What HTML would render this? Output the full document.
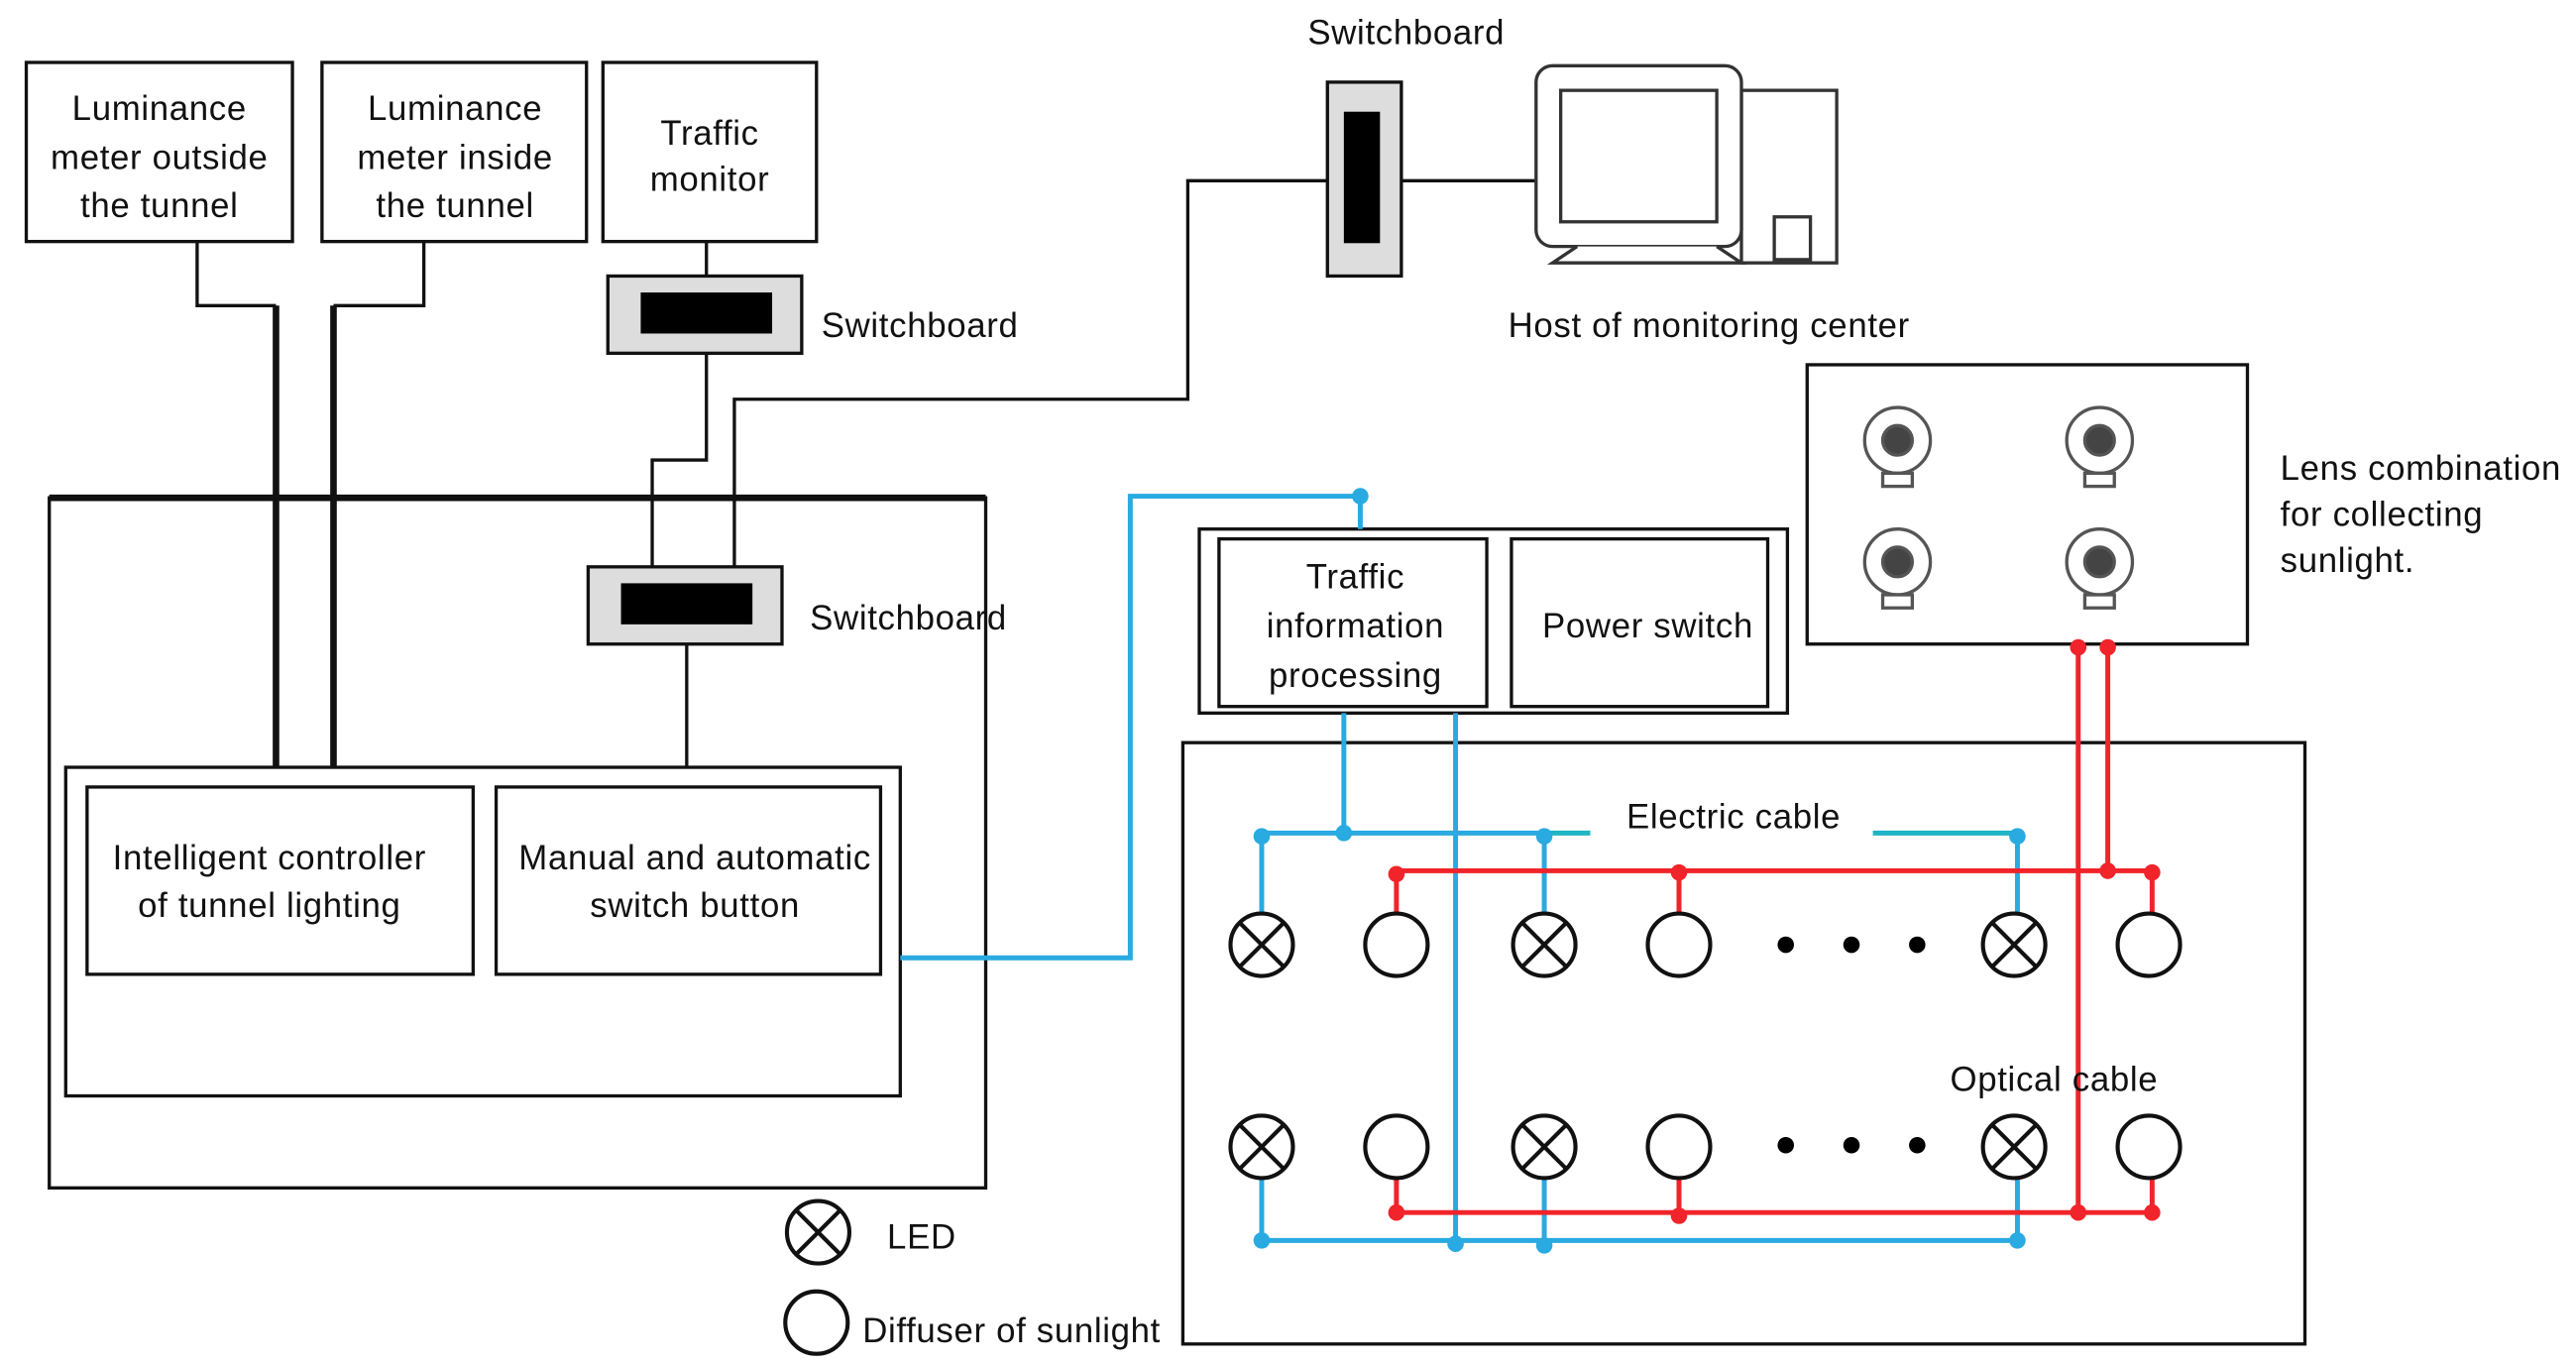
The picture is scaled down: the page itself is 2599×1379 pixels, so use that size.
<!DOCTYPE html>
<html><head><meta charset="utf-8"><style>
html,body{margin:0;padding:0;background:#fff;}
svg{display:block;}
text{font-family:"Liberation Sans","DejaVu Sans",sans-serif;font-size:21px;letter-spacing:0.4px;fill:#111;}
</style></head><body>
<svg width="2599" height="1379" viewBox="0 0 1568 832" preserveAspectRatio="none" xmlns="http://www.w3.org/2000/svg">
<rect width="1568" height="832" fill="#fff"/>
<g fill="none" stroke="#111" stroke-width="2">
<rect x="16" y="38" width="162" height="109"/>
<rect x="196" y="38" width="161" height="109"/>
<rect x="367" y="38" width="130" height="109"/>
<rect x="30" y="303" width="570" height="420"/>
<rect x="40" y="467" width="508" height="200"/>
<rect x="53" y="479" width="235" height="114"/>
<rect x="302" y="479" width="234" height="114"/>
<rect x="730" y="322" width="358" height="112"/>
<rect x="742" y="328" width="163" height="102"/>
<rect x="920" y="328" width="156" height="102"/>
<rect x="1100" y="222" width="268" height="170"/>
<rect x="720" y="452" width="683" height="366"/>
<polyline points="120,147 120,186 168,186"/>
<polyline points="258,147 258,186 203,186"/>
<line x1="430" y1="147" x2="430" y2="168"/>
<polyline points="430,215 430,280 397,280 397,345"/>
<polyline points="447,345 447,243 723,243 723,110 808,110"/>
<line x1="853" y1="110" x2="935" y2="110"/>
<line x1="418" y1="392" x2="418" y2="467"/>
</g>
<g stroke="#111" stroke-width="4">
<line x1="168" y1="186" x2="168" y2="467"/>
<line x1="203" y1="186" x2="203" y2="467"/>
<line x1="30" y1="303" x2="600" y2="303"/>
</g>
<rect x="370" y="168" width="118" height="47" fill="#ddd" stroke="#111" stroke-width="2"/>
<rect x="390" y="178" width="80" height="25" fill="#000"/>
<rect x="358" y="345" width="118" height="47" fill="#ddd" stroke="#111" stroke-width="2"/>
<rect x="378" y="355" width="80" height="25" fill="#000"/>
<rect x="808" y="50" width="45" height="118" fill="#ddd" stroke="#111" stroke-width="2"/>
<rect x="818" y="68" width="22" height="80" fill="#000"/>
<g fill="#fff" stroke="#333" stroke-width="2">
<rect x="1060" y="55" width="58" height="105"/>
<rect x="1080" y="132" width="22" height="26"/>
<rect x="935" y="40" width="125" height="110" rx="10"/>
<rect x="950" y="55" width="95" height="80"/>
<path d="M960 150 L945 160 L1060 160 L1045 150"/>
</g>
<g stroke="#555" stroke-width="2" fill="#fff">
<g transform="translate(1155,268)"><circle r="20"/><circle r="9" fill="#444"/><rect x="-9" y="20" width="18" height="8"/></g>
<g transform="translate(1278,268)"><circle r="20"/><circle r="9" fill="#444"/><rect x="-9" y="20" width="18" height="8"/></g>
<g transform="translate(1155,342)"><circle r="20"/><circle r="9" fill="#444"/><rect x="-9" y="20" width="18" height="8"/></g>
<g transform="translate(1278,342)"><circle r="20"/><circle r="9" fill="#444"/><rect x="-9" y="20" width="18" height="8"/></g>
</g>
<g fill="none" stroke="#29aae1" stroke-width="3">
<polyline points="548,583 688,583 688,302 828,302 828,322"/>
<line x1="818" y1="434" x2="818" y2="507"/>
<line x1="886" y1="434" x2="886" y2="757"/>
<line x1="768" y1="507" x2="940" y2="507"/>
<line x1="768" y1="755" x2="1228" y2="755"/>
<line x1="768" y1="507" x2="768" y2="556"/>
<line x1="940" y1="507" x2="940" y2="556"/>
<line x1="1228" y1="507" x2="1228" y2="556"/>
<line x1="768" y1="717" x2="768" y2="755"/>
<line x1="940" y1="717" x2="940" y2="757"/>
<line x1="1228" y1="717" x2="1228" y2="755"/>
</g>
<g stroke="#1fb5c4" stroke-width="3">
<line x1="940" y1="507" x2="968" y2="507"/>
<line x1="1140" y1="507" x2="1228" y2="507"/>
</g>
<g fill="#29aae1"><circle cx="828" cy="302" r="5"/><circle cx="818" cy="507" r="5"/><circle cx="768" cy="509" r="5"/><circle cx="940" cy="509" r="5"/><circle cx="1228" cy="509" r="5"/><circle cx="768" cy="755" r="5"/><circle cx="886" cy="757" r="5"/><circle cx="940" cy="758" r="5"/><circle cx="1228" cy="755" r="5"/></g>
<g fill="none" stroke="#f0242a" stroke-width="3">
<line x1="850" y1="530" x2="1310" y2="530"/>
<line x1="850" y1="738" x2="1310" y2="738"/>
<line x1="1265" y1="392" x2="1265" y2="738"/>
<line x1="1283" y1="392" x2="1283" y2="530"/>
<line x1="850" y1="530" x2="850" y2="556"/>
<line x1="1022" y1="530" x2="1022" y2="556"/>
<line x1="1310" y1="530" x2="1310" y2="556"/>
<line x1="850" y1="717" x2="850" y2="738"/>
<line x1="1022" y1="717" x2="1022" y2="738"/>
<line x1="1310" y1="717" x2="1310" y2="738"/>
</g>
<g fill="#f0242a"><circle cx="1265" cy="394" r="5"/><circle cx="1283" cy="394" r="5"/><circle cx="850" cy="532" r="5"/><circle cx="1022" cy="531" r="5"/><circle cx="1283" cy="530" r="5"/><circle cx="1310" cy="531" r="5"/><circle cx="850" cy="738" r="5"/><circle cx="1022" cy="740" r="5"/><circle cx="1265" cy="738" r="5"/><circle cx="1310" cy="738" r="5"/></g>
<defs>
<g id="x"><circle r="19" fill="#fff" stroke="#111" stroke-width="2.5"/><line x1="-13" y1="-13" x2="13" y2="13" stroke="#111" stroke-width="2.5"/><line x1="13" y1="-13" x2="-13" y2="13" stroke="#111" stroke-width="2.5"/></g>
<g id="o"><circle r="19" fill="#fff" stroke="#111" stroke-width="2.5"/></g>
</defs>
<use href="#x" x="768" y="575"/><use href="#o" x="850" y="575"/><use href="#x" x="940" y="575"/><use href="#o" x="1022" y="575"/><use href="#x" x="1226" y="575"/><use href="#o" x="1308" y="575"/>
<use href="#x" x="768" y="698"/><use href="#o" x="850" y="698"/><use href="#x" x="940" y="698"/><use href="#o" x="1022" y="698"/><use href="#x" x="1226" y="698"/><use href="#o" x="1308" y="698"/>
<g fill="#000"><circle cx="1087" cy="575" r="5"/><circle cx="1127" cy="575" r="5"/><circle cx="1167" cy="575" r="5"/><circle cx="1087" cy="697" r="5"/><circle cx="1127" cy="697" r="5"/><circle cx="1167" cy="697" r="5"/></g>
<use href="#x" x="498" y="750"/><use href="#o" x="497" y="805"/>
<g text-anchor="middle">
<text x="97" y="73">Luminance</text><text x="97" y="103">meter outside</text><text x="97" y="132">the tunnel</text>
<text x="277" y="73">Luminance</text><text x="277" y="103">meter inside</text><text x="277" y="132">the tunnel</text>
<text x="432" y="88">Traffic</text><text x="432" y="116">monitor</text>
<text x="164" y="529">Intelligent controller</text><text x="164" y="558">of tunnel lighting</text>
<text x="423" y="529">Manual and automatic</text><text x="423" y="558">switch button</text>
<text x="825" y="358">Traffic</text><text x="825" y="388">information</text><text x="825" y="418">processing</text>
<text x="1003" y="388">Power switch</text>
</g>
<text x="500" y="205">Switchboard</text>
<text x="493" y="383">Switchboard</text>
<text x="796" y="27">Switchboard</text>
<text x="918" y="205">Host of monitoring center</text>
<text x="1388" y="292">Lens combination</text><text x="1388" y="320">for collecting</text><text x="1388" y="348">sunlight.</text>
<text x="990" y="504">Electric cable</text>
<text x="1187" y="664">Optical cable</text>
<text x="540" y="760">LED</text>
<text x="525" y="817">Diffuser of sunlight</text>
</svg>
</body></html>
